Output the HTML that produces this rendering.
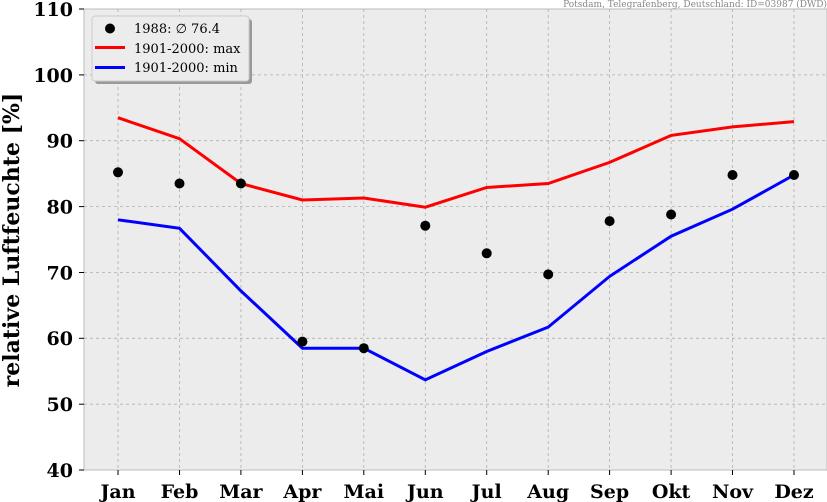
<!DOCTYPE html>
<html><head><meta charset="utf-8"><style>
html,body{margin:0;padding:0;background:#fff;width:827px;height:502px;overflow:hidden}
svg{display:block}
.t{font-family:"DejaVu Serif","Liberation Serif",serif;font-weight:bold;font-size:19px;fill:#000}
.l{font-family:"DejaVu Serif","Liberation Serif",serif;font-size:13px;fill:#000}
</style></head><body>
<svg width="827" height="502" viewBox="0 0 827 502" xmlns="http://www.w3.org/2000/svg">
<rect x="84" y="9" width="743" height="461" fill="#ececec" stroke="#bbb" stroke-width="1"/>
<g stroke="#b0b0b0" stroke-dasharray="3,3" stroke-width="0.8">
<line x1="84" x2="827" y1="74.9" y2="74.9"/><line x1="84" x2="827" y1="140.7" y2="140.7"/>
<line x1="84" x2="827" y1="206.6" y2="206.6"/><line x1="84" x2="827" y1="272.5" y2="272.5"/>
<line x1="84" x2="827" y1="338.3" y2="338.3"/><line x1="84" x2="827" y1="404.2" y2="404.2"/>
<line y1="9" y2="470" x1="118" x2="118"/><line y1="9" y2="470" x1="179.5" x2="179.5"/>
<line y1="9" y2="470" x1="240.9" x2="240.9"/><line y1="9" y2="470" x1="302.4" x2="302.4"/>
<line y1="9" y2="470" x1="363.8" x2="363.8"/><line y1="9" y2="470" x1="425.3" x2="425.3"/>
<line y1="9" y2="470" x1="486.7" x2="486.7"/><line y1="9" y2="470" x1="548.2" x2="548.2"/>
<line y1="9" y2="470" x1="609.6" x2="609.6"/><line y1="9" y2="470" x1="671.1" x2="671.1"/>
<line y1="9" y2="470" x1="732.5" x2="732.5"/><line y1="9" y2="470" x1="794" x2="794"/>
</g>
<g stroke="#000" stroke-width="1">
<line x1="79" x2="84" y1="9" y2="9"/><line x1="79" x2="84" y1="74.9" y2="74.9"/><line x1="79" x2="84" y1="140.7" y2="140.7"/><line x1="79" x2="84" y1="206.6" y2="206.6"/><line x1="79" x2="84" y1="272.5" y2="272.5"/><line x1="79" x2="84" y1="338.3" y2="338.3"/><line x1="79" x2="84" y1="404.2" y2="404.2"/><line x1="79" x2="84" y1="470" y2="470"/>
<line y1="470" y2="475" x1="118" x2="118"/><line y1="470" y2="475" x1="179.5" x2="179.5"/><line y1="470" y2="475" x1="240.9" x2="240.9"/><line y1="470" y2="475" x1="302.4" x2="302.4"/><line y1="470" y2="475" x1="363.8" x2="363.8"/><line y1="470" y2="475" x1="425.3" x2="425.3"/><line y1="470" y2="475" x1="486.7" x2="486.7"/><line y1="470" y2="475" x1="548.2" x2="548.2"/><line y1="470" y2="475" x1="609.6" x2="609.6"/><line y1="470" y2="475" x1="671.1" x2="671.1"/><line y1="470" y2="475" x1="732.5" x2="732.5"/><line y1="470" y2="475" x1="794" x2="794"/>
</g>
<g class="t" text-anchor="end">
<text x="73" y="16">110</text><text x="73" y="82">100</text><text x="73" y="147.5">90</text><text x="73" y="213.5">80</text><text x="73" y="279.5">70</text><text x="73" y="345">60</text><text x="73" y="411">50</text><text x="73" y="477">40</text>
</g>
<g class="t" text-anchor="middle">
<text x="118" y="498">Jan</text><text x="179.5" y="498">Feb</text><text x="240.9" y="498">Mar</text><text x="302.4" y="498">Apr</text><text x="363.8" y="498">Mai</text><text x="425.3" y="498">Jun</text><text x="486.7" y="498">Jul</text><text x="548.2" y="498">Aug</text><text x="609.6" y="498">Sep</text><text x="671.1" y="498">Okt</text><text x="732.5" y="498">Nov</text><text x="794" y="498">Dez</text>
</g>
<text class="t" font-size="22" text-anchor="middle" transform="translate(19,240) rotate(-90)" style="font-size:22px">relative Luftfeuchte [%]</text>
<text x="827" y="7" text-anchor="end" style="font-family:'DejaVu Serif',serif;font-size:9px;fill:#888">Potsdam, Telegrafenberg, Deutschland: ID=03987 (DWD)</text>
<polyline fill="none" stroke="#ff0000" stroke-width="3" points="118,117.7 179.5,138.7 240.9,183.5 302.4,200 363.8,198 425.3,207.2 486.7,187.5 548.2,183.5 609.6,162.4 671.1,135.4 732.5,126.9 794,121.6"/>
<polyline fill="none" stroke="#0000ff" stroke-width="3" points="118,219.8 179.5,228.3 240.9,290.9 302.4,348.2 363.8,348.2 425.3,379.8 486.7,351.5 548.2,327.1 609.6,276.4 671.1,236.2 732.5,209.2 794,175"/>
<g fill="#000">
<circle cx="118" cy="172.3" r="5"/><circle cx="179.5" cy="183.5" r="5"/><circle cx="240.9" cy="183.5" r="5"/><circle cx="302.4" cy="341.6" r="5"/><circle cx="363.8" cy="348.2" r="5"/><circle cx="425.3" cy="225.7" r="5"/><circle cx="486.7" cy="253.3" r="5"/><circle cx="548.2" cy="274.4" r="5"/><circle cx="609.6" cy="221.1" r="5"/><circle cx="671.1" cy="214.5" r="5"/><circle cx="732.5" cy="175" r="5"/><circle cx="794" cy="175" r="5"/>
</g>
<rect x="95" y="19" width="157" height="65" rx="3" fill="#999"/>
<rect x="92" y="16" width="157" height="65" rx="3" fill="#ececec" stroke="#ccc"/>
<circle cx="110" cy="28.5" r="5" fill="#000"/>
<line x1="95" x2="125" y1="47.5" y2="47.5" stroke="#ff0000" stroke-width="3"/>
<line x1="95" x2="125" y1="67.5" y2="67.5" stroke="#0000ff" stroke-width="3"/>
<text class="l" x="134" y="33">1988: ∅ 76.4</text>
<text class="l" x="134" y="53">1901-2000: max</text>
<text class="l" x="134" y="72">1901-2000: min</text>
</svg>
</body></html>
